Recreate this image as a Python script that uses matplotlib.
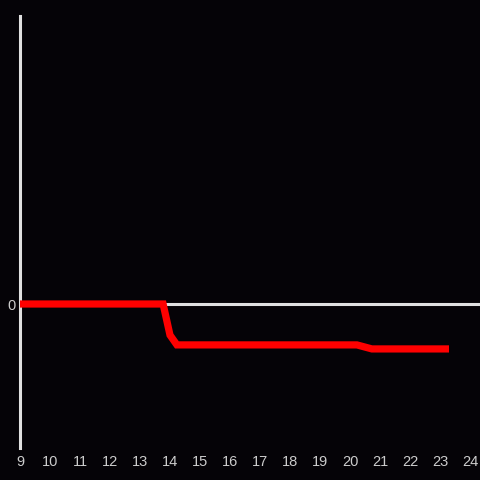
#!/usr/bin/env python3
"""Step line over the hours of a day, dark theme."""

import matplotlib
matplotlib.use('Agg')
import matplotlib.pyplot as plt

hours = [9, 13.77, 14.0, 14.23, 20.23, 20.73, 23.18]
values = [0, 0, -10.8, -14.2, -14.2, -15.6, -15.6]
x_ticks = list(range(9, 25))

BG = '#050307'
FG = '#e0e0e0'

plt.rcParams['font.family'] = ['Liberation Sans', 'DejaVu Sans']

fig = plt.figure(figsize=(4.8, 4.8), dpi=100, facecolor=BG)
ax = fig.add_axes([20 / 480, 32 / 480, 460 / 480, 432 / 480], facecolor=BG)

ax.axhline(0, color=FG, lw=2.2, zorder=2)
ax.plot(hours, values, color='#ff0000', lw=5.2, solid_joinstyle='miter',
        solid_capstyle='projecting', zorder=3)

ax.set_xlim(9, 9 + 460 / 30)
ax.set_ylim(-50, 100)
ax.set_xticks(x_ticks)
ax.set_yticks([0])

for side in ('top', 'right', 'bottom'):
    ax.spines[side].set_visible(False)
ax.spines['left'].set_color(FG)
ax.spines['left'].set_linewidth(2.2)
ax.tick_params(length=0, colors='#cccccc', labelsize=10.5)
ax.tick_params(axis='x', pad=5)
ax.tick_params(axis='y', pad=3)

plt.savefig('out.png', dpi=100, facecolor=BG)
